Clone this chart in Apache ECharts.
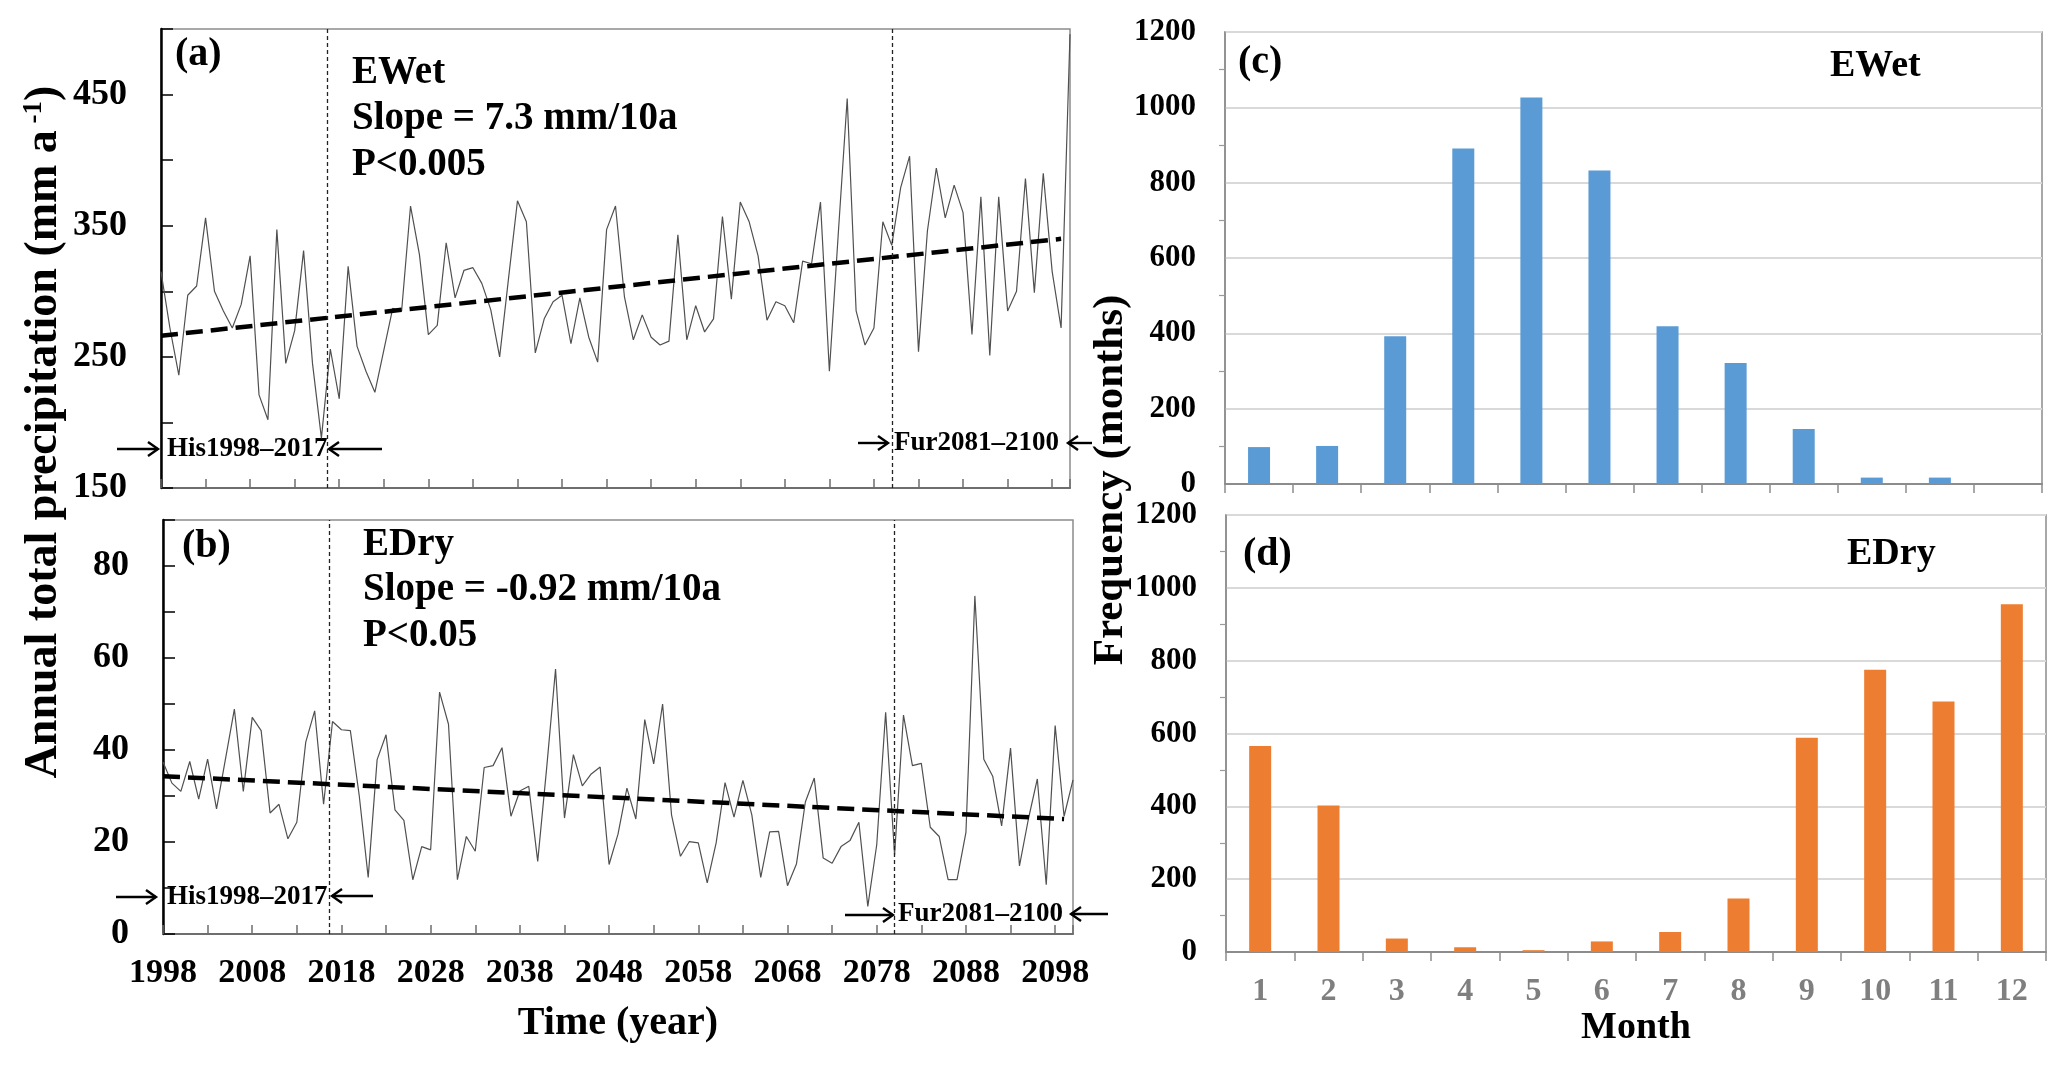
<!DOCTYPE html>
<html>
<head>
<meta charset="utf-8">
<script src="https://cdn.jsdelivr.net/npm/echarts@6/dist/echarts.min.js"></script>
<style>html,body{margin:0;padding:0;background:#fff}#chart{width:2067px;height:1067px}</style>
</head>
<body>
<div id="chart"></div>
<script>
// ---------------- data ----------------
const startYear = 1998;
const ewetAnnual = [
  315, 272, 236, 297, 304, 356, 300, 285, 272, 290,
  327, 221, 202, 347, 245, 270, 331, 245, 188, 256,
  218, 319, 258, 239, 223, 255, 287, 285, 365, 328,
  267, 274, 337, 295, 316, 318, 306, 286, 250, 310,
  369, 353, 253, 279, 292, 297, 260, 295, 265, 246,
  347, 365, 296, 263, 282, 265, 259, 262, 343, 263,
  289, 269, 279, 357, 294, 368, 353, 327, 278, 292,
  289, 276, 323, 321, 368, 239, 344, 447, 285, 259,
  272, 353, 335, 379, 403, 254, 346, 394, 356, 381,
  360, 267, 372, 251, 372, 285, 300, 386, 299, 390,
  315, 272, 496
];
const edryAnnual = [
  37.4, 32.8, 31.0, 37.5, 29.3, 38.0, 27.2, 38.0, 48.9, 31.0,
  47.1, 44.2, 26.3, 28.2, 20.7, 24.3, 41.7, 48.5, 28.2, 46.2,
  44.4, 44.2, 30.0, 12.3, 37.9, 43.3, 27.0, 24.7, 11.8, 19.0,
  18.3, 52.6, 45.6, 11.8, 21.2, 18.0, 36.2, 36.6, 40.5, 25.6,
  31.1, 32.1, 15.8, 36.0, 57.6, 25.2, 39.0, 32.2, 34.8, 36.3,
  15.1, 21.7, 31.7, 25.0, 46.6, 37.0, 50.0, 25.9, 16.9, 20.1,
  19.8, 11.1, 19.8, 32.9, 25.4, 33.4, 25.9, 12.3, 22.2, 22.3,
  10.5, 15.2, 28.7, 33.9, 16.5, 15.4, 19.0, 20.3, 24.3, 6.0,
  19.4, 48.2, 17.2, 47.6, 36.6, 37.1, 23.2, 21.2, 11.8, 11.8,
  22.1, 73.5, 38.0, 34.3, 23.5, 40.4, 14.8, 25.0, 33.7, 10.7,
  45.3, 25.6, 33.5
];
const ewetTrend = [[1998, 266.1], [2099, 340.0]];
const edryTrend = [[1998, 34.3], [2099, 25.0]];
const periodBounds = [2016.6, 2080];
const months = ['1', '2', '3', '4', '5', '6', '7', '8', '9', '10', '11', '12'];
const ewetMonthFreq = [98, 101, 392, 891, 1026, 832, 419, 321, 146, 17, 17, 0];
const edryMonthFreq = [566, 402, 37, 13, 5, 29, 55, 147, 588, 775, 688, 955];

// ---------------- chart ----------------
const FONT = "'Liberation Serif','Times New Roman',serif";
const years = ewetAnnual.map((_, i) => startYear + i);
const toPairs = vals => vals.map((v, i) => [years[i], v]);

const gridBase = { show: true, borderColor: '#8c8c8c', borderWidth: 1.5, backgroundColor: 'transparent', containLabel: false };
const grids = [
  Object.assign({ left: 161, top: 29, width: 909, height: 459 }, gridBase),
  Object.assign({ left: 163, top: 520, width: 910, height: 414 }, gridBase),
  Object.assign({ left: 1225, top: 32, width: 817, height: 452 }, gridBase),
  Object.assign({ left: 1226, top: 515, width: 820, height: 437 }, gridBase)
];

function timeAxis(gridIndex, showLabels) {
  return {
    type: 'value', gridIndex: gridIndex, min: 1998, max: 2100, interval: 5,
    axisLine: { show: true, onZero: false, lineStyle: { color: '#6e6e6e', width: 2 } },
    axisTick: { show: true, inside: true, length: 9, lineStyle: { color: '#6e6e6e', width: 1.5 } },
    splitLine: { show: false },
    axisLabel: {
      show: showLabels, margin: 22, fontFamily: FONT, fontWeight: 'bold', fontSize: 34, color: '#000',
      formatter: v => ((v - 1998) % 10 === 0 ? String(v) : '')
    }
  };
}
function precipAxis(gridIndex, min, max, interval, labelStep, labelMax) {
  return {
    type: 'value', gridIndex: gridIndex, min: min, max: max, interval: interval,
    axisLine: { show: true, onZero: false, lineStyle: { color: '#000', width: 2.5 } },
    axisTick: { show: true, inside: true, length: 12, lineStyle: { color: '#000', width: 1.5 } },
    splitLine: { show: false },
    axisLabel: {
      margin: 34, fontFamily: FONT, fontWeight: 'bold', fontSize: 36, color: '#000',
      formatter: v => (((v - min) % labelStep === 0 && v <= labelMax) ? String(v) : '')
    }
  };
}
function monthAxis(gridIndex, showLabels) {
  return {
    type: 'category', gridIndex: gridIndex, data: months,
    axisLine: { show: true, lineStyle: { color: '#8c8c8c', width: 2 } },
    axisTick: { show: true, length: 9, lineStyle: { color: '#8c8c8c', width: 1.5 } },
    axisLabel: { show: showLabels, margin: 24, fontFamily: FONT, fontWeight: 'bold', fontSize: 32, color: '#7f7f7f' }
  };
}
function freqAxis(gridIndex) {
  return {
    type: 'value', gridIndex: gridIndex, min: 0, max: 1200, interval: 200,
    axisLine: { show: true, lineStyle: { color: '#8c8c8c', width: 1.5 } },
    axisTick: { show: false },
    minorTick: { show: true, splitNumber: 2, length: 6, lineStyle: { color: '#9a9a9a', width: 1.2 } },
    splitLine: { show: true, lineStyle: { color: '#d9d9d9', width: 2 } },
    axisLabel: { margin: 29, fontFamily: FONT, fontWeight: 'bold', fontSize: 31, color: '#000',
                 formatter: v => String(v) }
  };
}

const periodMarkLine = {
  silent: true, symbol: ['none', 'none'], label: { show: false },
  lineStyle: { color: '#222', type: [4, 3], width: 1.3 },
  data: periodBounds.map(x => ({ xAxis: x }))
};

function txt(x, y, s, size, align) {
  return {
    type: 'text', x: x, y: y, silent: true,
    style: { text: s, fill: '#000', fontFamily: FONT, fontWeight: 'bold', fontSize: size,
             align: align || 'left', verticalAlign: 'middle' }
  };
}
function arrow(tail, head, y) {
  const d = head > tail ? 1 : -1;
  return {
    type: 'group', silent: true,
    children: [
      { type: 'line', shape: { x1: tail, y1: y, x2: head, y2: y }, style: { stroke: '#000', lineWidth: 2.4 } },
      { type: 'polyline', shape: { points: [[head - d * 10, y - 7], [head, y], [head - d * 10, y + 7]] },
        style: { stroke: '#000', lineWidth: 2.4, fill: null } }
    ]
  };
}

const graphics = [
  txt(175, 55, '(a)', 40), txt(352, 73, 'EWet', 39), txt(352, 119, 'Slope = 7.3 mm/10a', 39), txt(352, 165, 'P<0.005', 39),
  txt(182, 547, '(b)', 40), txt(363, 545, 'EDry', 39), txt(363, 590, 'Slope = -0.92 mm/10a', 39), txt(363, 636, 'P<0.05', 39),
  txt(167, 449, 'His1998\u20132017', 27), txt(894, 443, 'Fur2081\u20132100', 27),
  txt(167, 897, 'His1998\u20132017', 27), txt(898, 914, 'Fur2081\u20132100', 27),
  arrow(117, 158, 449), arrow(382, 329, 449), arrow(858, 888, 443), arrow(1092, 1068, 443),
  arrow(116, 156, 897), arrow(373, 332, 896), arrow(845, 893, 915), arrow(1108, 1071, 914),
  txt(1238, 63, '(c)', 40), txt(1830, 66, 'EWet', 38),
  txt(1243, 555, '(d)', 40), txt(1847, 554, 'EDry', 38),
  txt(618, 1024, 'Time (year)', 40, 'center'),
  txt(1636, 1028, 'Month', 38, 'center'),
  {
    type: 'text', x: 44, y: 432, rotation: Math.PI / 2, silent: true,
    style: {
      text: '{m|Annual total precipitation (mm a}{s| -1}{m|)}',
      align: 'center', verticalAlign: 'middle',
      rich: {
        m: { fontFamily: FONT, fontWeight: 'bold', fontSize: 46, fill: '#000' },
        s: { fontFamily: FONT, fontWeight: 'bold', fontSize: 27, fill: '#000', verticalAlign: 'top' }
      }
    }
  },
  {
    type: 'text', x: 1111, y: 480, rotation: Math.PI / 2, silent: true,
    style: { text: 'Frequency (months)', fill: '#000', fontFamily: FONT, fontWeight: 'bold', fontSize: 43,
             align: 'center', verticalAlign: 'middle' }
  }
];

const option = {
  animation: false,
  backgroundColor: '#fff',
  grid: grids,
  xAxis: [timeAxis(0, false), timeAxis(1, true), monthAxis(2, false), monthAxis(3, true)],
  yAxis: [precipAxis(0, 150, 500, 50, 100, 450), precipAxis(1, 0, 90, 10, 20, 80), freqAxis(2), freqAxis(3)],
  series: [
    { type: 'line', xAxisIndex: 0, yAxisIndex: 0, data: toPairs(ewetAnnual), showSymbol: false, symbol: 'none',
      lineStyle: { color: '#505050', width: 1.2 }, markLine: periodMarkLine, z: 3 },
    { type: 'line', xAxisIndex: 0, yAxisIndex: 0, data: ewetTrend, showSymbol: false, symbol: 'none',
      lineStyle: { color: '#000', width: 4.5, type: [17, 8] }, z: 4 },
    { type: 'line', xAxisIndex: 1, yAxisIndex: 1, data: toPairs(edryAnnual), showSymbol: false, symbol: 'none',
      lineStyle: { color: '#505050', width: 1.2 }, markLine: periodMarkLine, z: 3 },
    { type: 'line', xAxisIndex: 1, yAxisIndex: 1, data: edryTrend, showSymbol: false, symbol: 'none',
      lineStyle: { color: '#000', width: 4.5, type: [17, 8] }, z: 4 },
    { type: 'bar', xAxisIndex: 2, yAxisIndex: 2, data: ewetMonthFreq, barWidth: 22, itemStyle: { color: '#5b9bd5' } },
    { type: 'bar', xAxisIndex: 3, yAxisIndex: 3, data: edryMonthFreq, barWidth: 22, itemStyle: { color: '#ed7d31' } }
  ],
  graphic: graphics
};

const chart = echarts.init(document.getElementById('chart'));
chart.setOption(option);
</script>
</body>
</html>
